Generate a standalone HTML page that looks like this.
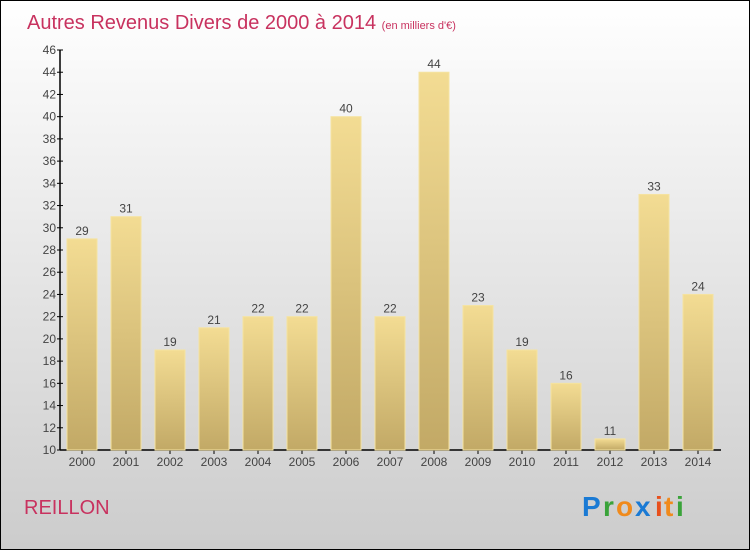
<!DOCTYPE html>
<html><head><meta charset="utf-8"><style>
body{margin:0}
svg{display:block;font-family:"Liberation Sans",sans-serif}
</style></head><body>
<svg width="750" height="550" viewBox="0 0 750 550" xmlns="http://www.w3.org/2000/svg">
<defs>
<linearGradient id="bg" x1="0" y1="0" x2="0" y2="1"><stop offset="0" stop-color="#ffffff"/><stop offset="1" stop-color="#cccccc"/></linearGradient>
<linearGradient id="bar" x1="0" y1="0" x2="0" y2="1"><stop offset="0" stop-color="#f3dc93"/><stop offset="1" stop-color="#c2a966"/></linearGradient>
</defs>
<rect x="0.5" y="0.5" width="749" height="549" fill="url(#bg)" stroke="#000"/>
<text x="27" y="29" font-size="20" fill="#c8325f">Autres Revenus Divers de 2000 à 2014 <tspan font-size="11">(en milliers d'€)</tspan></text>
<g id="axes"></g>
<g id="bars"></g>
<text x="24" y="514" font-size="20" fill="#c8325f">REILLON</text>
<g font-size="28" font-weight="bold">
<text x="582" y="516" fill="#1a7ad4">P</text><text x="603" y="516" fill="#3aa33a">r</text><text x="616" y="516" fill="#f08a1c">o</text><text x="635" y="516" fill="#1a7ad4">x</text><text x="655" y="516" fill="#e8501c">i</text><text x="664" y="516" fill="#f08a1c">t</text><text x="676" y="516" fill="#3aa33a">i</text>
</g>
</svg>
<script>
const years=["2000","2001","2002","2003","2004","2005","2006","2007","2008","2009","2010","2011","2012","2013","2014"];
const values=[29,31,19,21,22,22,40,22,44,23,19,16,11,33,24];
const yTicks=[10,12,14,16,18,20,22,24,26,28,30,32,34,36,38,40,42,44,46];
const NS="http://www.w3.org/2000/svg";
const yMin=10,yMax=46,plotTop=50,plotBot=450;
const yS=v=>plotBot-(v-yMin)/(yMax-yMin)*(plotBot-plotTop);
const xS=i=>82+i*44;
function mk(t,a,p){const e=document.createElementNS(NS,t);for(const k in a)e.setAttribute(k,a[k]);p.appendChild(e);return e;}
const ax=document.getElementById('axes'),bg=document.getElementById('bars');
let l=mk('line',{x1:60,y1:plotTop,x2:60,y2:plotBot,stroke:'#000','stroke-width':1.5},ax);


l=mk('line',{x1:60,y1:plotBot,x2:721,y2:plotBot,stroke:'#000','stroke-width':1.5},ax);


yTicks.forEach(v=>{
 mk('line',{x1:57,y1:yS(v),x2:63,y2:yS(v),stroke:'#000'},ax);
 const t=mk('text',{x:56,y:yS(v)+4,'text-anchor':'end','font-size':12,fill:'#444'},ax);
 t.textContent=v;
 
 
});
years.forEach((yr,i)=>{
 mk('line',{x1:xS(i),y1:plotBot,x2:xS(i),y2:plotBot+4,stroke:'#000'},ax);
 const t=mk('text',{x:xS(i),y:plotBot+16,'text-anchor':'middle','font-size':12,fill:'#444'},ax);
 t.textContent=yr;
 
 
 const r=mk('rect',{x:xS(i)-15,y:yS(values[i]),width:30,height:plotBot-yS(values[i]),fill:'url(#bar)',stroke:'#f5e3a0','stroke-width':1},bg);
 
 
 const v=mk('text',{x:xS(i),y:yS(values[i])-4,'text-anchor':'middle','font-size':12,fill:'#444'},bg);
 v.textContent=values[i];
 
 
});
</script>
</body></html>
